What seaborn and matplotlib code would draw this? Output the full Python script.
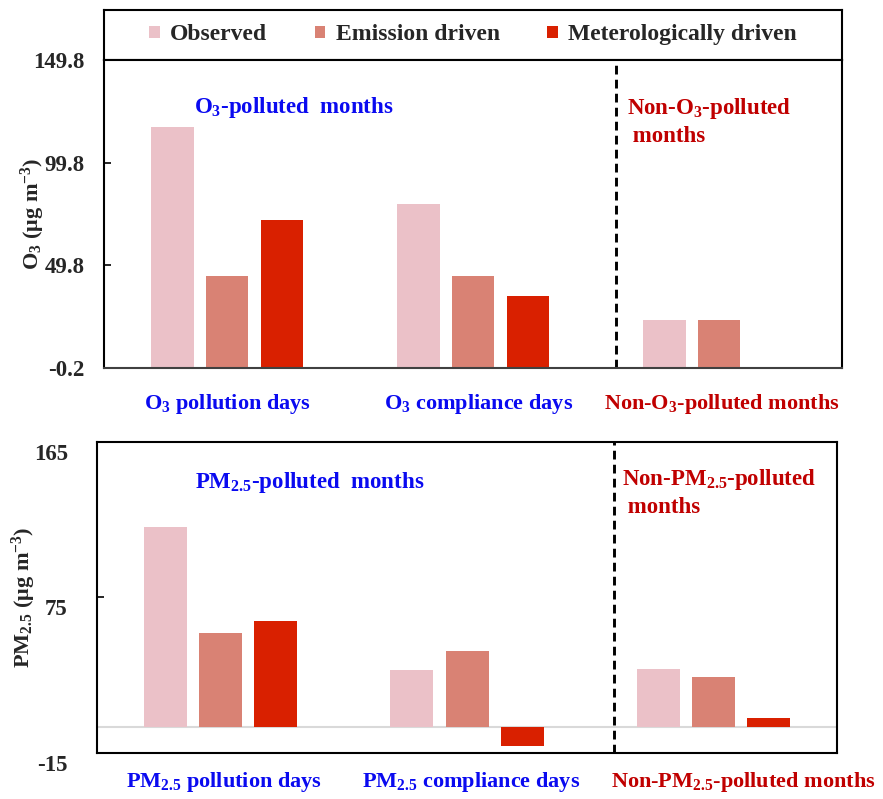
import numpy as np
import pandas as pd
import matplotlib
matplotlib.use("Agg")
import matplotlib.pyplot as plt
import matplotlib.transforms as mtransforms
import seaborn as sns

# ---- data -------------------------------------------------------------
series = ["Observed", "Emission driven", "Meterologically driven"]
series_colors = ["#EBC1C8", "#D98274", "#D92000"]

o3_categories = ["O$_\\mathrm{3}$ pollution days",
                 "O$_\\mathrm{3}$ compliance days",
                 "Non-O$_\\mathrm{3}$-polluted months"]
o3_observed = [117.2, 79.5, 23.2]
o3_emission = [44.6, 44.6, 23.2]
o3_meteorology = [71.9, 34.7, 0.0]
o3_ticks = [-0.2, 49.8, 99.8, 149.8]
o3_ticklabels = ["-0.2", "49.8", "99.8", "149.8"]

pm_categories = ["PM$_\\mathrm{2.5}$ pollution days",
                 "PM$_\\mathrm{2.5}$ compliance days",
                 "Non-PM$_\\mathrm{2.5}$-polluted months"]
pm_observed = [115.9, 33.0, 33.6]
pm_emission = [54.6, 44.2, 28.8]
pm_meteorology = [61.3, -10.8, 5.2]
pm_ticks = [-15, 75, 165]
pm_ticklabels = ["-15", "75", "165"]

BLUE = "#0A0AF0"
DARKRED = "#C00000"
category_colors = [BLUE, BLUE, DARKRED]

# ---- style ------------------------------------------------------------
sns.set_theme(style="white")
plt.rcParams["font.family"] = ["Liberation Serif", "DejaVu Serif"]
plt.rcParams["font.weight"] = "bold"
plt.rcParams["mathtext.fontset"] = "custom"
plt.rcParams["mathtext.rm"] = "Liberation Serif:bold"
plt.rcParams["mathtext.it"] = "Liberation Serif:bold:italic"
plt.rcParams["mathtext.bf"] = "Liberation Serif:bold"
plt.rcParams["axes.unicode_minus"] = False

FS_TICK = 16.5
FS_CAT = 16
FS_NOTE = 16.5
FS_LABEL = 16
FS_LEG = 17

fig = plt.figure(figsize=(8.83, 7.99), dpi=100)
ax_leg = fig.add_axes([0.1178, 0.9249, 0.8358, 0.0626])
ax1 = fig.add_axes([0.1178, 0.5394, 0.8358, 0.3855])
ax2 = fig.add_axes([0.1099, 0.0576, 0.8380, 0.3892])


def long_table(categories, obs, emi, met):
    rows = []
    for cat, a, b, c in zip(categories, obs, emi, met):
        rows.append((cat, series[0], a))
        rows.append((cat, series[1], b))
        rows.append((cat, series[2], c))
    return pd.DataFrame(rows, columns=["category", "series", "value"])


def shift(dx_px, dy_px):
    return mtransforms.ScaledTranslation(dx_px / fig.dpi, dy_px / fig.dpi,
                                         fig.dpi_scale_trans)


def draw_panel(ax, df, categories, ticks, ticklabels, ylim, ylabel,
               label_x, label_pad, tick_pad, label_shift, cat_shifts):
    sns.barplot(data=df, x="category", y="value", hue="series",
                order=categories, hue_order=series, palette=series_colors,
                saturation=1, width=0.67, gap=0.22, linewidth=0,
                errorbar=None, ax=ax)
    ax.set_xlim(-0.5, 2.5)
    ax.set_ylim(*ylim)
    ax.set_yticks(ticks, ticklabels)
    ax.set_xlabel("")
    ax.set_ylabel(ylabel, fontsize=FS_LABEL, fontweight="bold")
    ax.yaxis.set_label_coords(label_x, 0.5)
    ax.tick_params(axis="y", direction="in", length=5, width=1.2,
                   color="black", labelsize=FS_TICK, pad=tick_pad, left=True)
    ax.tick_params(axis="x", length=0, labelsize=FS_CAT, pad=label_pad)
    for lab, col, dx in zip(ax.get_xticklabels(), category_colors, cat_shifts):
        lab.set_color(col)
        lab.set_fontweight("bold")
        if dx:
            lab.set_transform(lab.get_transform() + shift(dx, 0))
    for lab in ax.get_yticklabels():
        lab.set_fontweight("bold")
        if label_shift:
            lab.set_transform(lab.get_transform() + shift(0, -label_shift))
    for sp in ax.spines.values():
        sp.set_visible(True)
        sp.set_color("black")
        sp.set_linewidth(1.5)
    leg = ax.get_legend()
    handles, labels = ax.get_legend_handles_labels()
    if leg is not None:
        leg.remove()
    return handles, labels


# ---- O3 panel -----------------------------------------------------------
df_o3 = long_table(o3_categories, o3_observed, o3_emission, o3_meteorology)
handles, labels = draw_panel(ax1, df_o3, o3_categories, o3_ticks, o3_ticklabels,
                             (-0.2, 149.8), "O$_\\mathrm{3}$ (\u03bcg m$^\\mathrm{-3}$)",
                             label_x=-0.077, label_pad=17.5, tick_pad=14,
                             label_shift=0, cat_shifts=[0, 6, 3])
ax1.spines["bottom"].set_color("#404040")
ax1.axvline(1.58, color="black", lw=2.1, linestyle=(0, (3, 1.8)))
ax1.text(0.257, 0.847, "O$_\\mathrm{3}$-polluted  months", transform=ax1.transAxes,
         color=BLUE, fontsize=FS_NOTE, fontweight="bold", ha="center", va="center")
ax1.text(0.709, 0.80, "Non-O$_\\mathrm{3}$-polluted\n months", transform=ax1.transAxes,
         color=DARKRED, fontsize=FS_NOTE, fontweight="bold", ha="left", va="center",
         linespacing=1.3)

# ---- PM2.5 panel --------------------------------------------------------
df_pm = long_table(pm_categories, pm_observed, pm_emission, pm_meteorology)
draw_panel(ax2, df_pm, pm_categories, pm_ticks, pm_ticklabels,
           (-15, 165), "PM$_\\mathrm{2.5}$ (\u03bcg m$^\\mathrm{-3}$)",
           label_x=-0.080, label_pad=12.5, tick_pad=21, label_shift=10,
           cat_shifts=[4, 4, 30])
ax2.axhline(0, color="#D9D9D9", lw=1.5, zorder=0.5)
ax2.axvline(1.596, color="black", lw=2.1, linestyle=(0, (3, 1.8)))
ax2.text(0.288, 0.871, "PM$_\\mathrm{2.5}$-polluted  months", transform=ax2.transAxes,
         color=BLUE, fontsize=FS_NOTE, fontweight="bold", ha="center", va="center")
ax2.text(0.709, 0.838, "Non-PM$_\\mathrm{2.5}$-polluted\n months", transform=ax2.transAxes,
         color=DARKRED, fontsize=FS_NOTE, fontweight="bold", ha="left", va="center",
         linespacing=1.3)

# ---- legend box ---------------------------------------------------------
ax_leg.set_xticks([])
ax_leg.set_yticks([])
for sp in ax_leg.spines.values():
    sp.set_visible(True)
    sp.set_color("black")
    sp.set_linewidth(1.5)
ax_leg.legend(handles, labels, loc="center", ncol=3, frameon=False,
              handlelength=0.45, handleheight=0.45,
              handletextpad=0.45, columnspacing=2.0,
              prop={"weight": "bold", "size": FS_LEG})

fig.savefig("out.png", dpi=100)
